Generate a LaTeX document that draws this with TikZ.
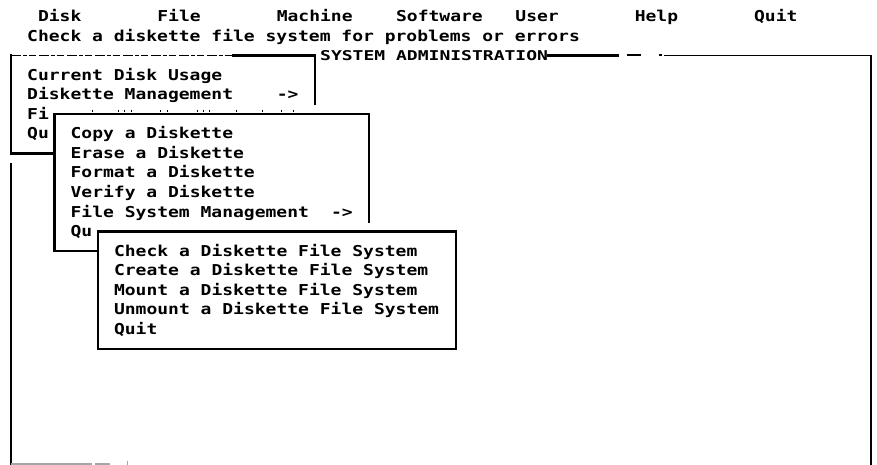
\documentclass[tikz,border=0pt]{standalone}
\usepackage{fontspec}
\newfontfamily\screenfont[FakeStretch=1.2]{DejaVu Sans Mono}
\newfontfamily\captionfont[FakeStretch=1.335]{DejaVu Sans Mono}
\newcommand\menutext{\screenfont\bfseries\fontsize{15}{18}\selectfont}
\newcommand\titletext{\captionfont\bfseries\fontsize{13.5}{16}\selectfont}
% character grid of the text screen: column -> x, row -> baseline y
\newcommand\gx[1]{(5.5+10.85*(#1))}
\newcommand\gy[1]{(21.5+19.55*(#1))}
\begin{document}
\begin{tikzpicture}[x=1pt,y=-1pt,
  tx/.style={anchor=base west,inner sep=0pt,outer sep=0pt,font=\menutext},
  ttl/.style={anchor=base west,inner sep=0pt,outer sep=0pt,font=\titletext},
  edge/.style={line width=2.4pt,line cap=rect},
  thinedge/.style={line width=1.3pt},
  worn/.style={line width=1.4pt,dash pattern=on 10pt off 2pt on 4pt off 2pt on 7pt off 3pt},
  faded/.style={line width=2pt,gray!70}]
\useasboundingbox (0,0) rectangle (877,465);

% ---- frame corners ----
\coordinate (m1tl) at ({\gx{0}+5.4},{\gy{2}-5});
\coordinate (m1bl) at ({\gx{0}+5.4},{\gy{7}-5});
\coordinate (m1tr) at ({\gx{28}+5.4},{\gy{2}-5});
\coordinate (m1re) at ({\gx{28}+5.4},{\gy{4}+4.5});
\coordinate (m1sj) at (233,{\gy{2}-5});
\coordinate (m2tl) at ({\gx{4}+5.4},{\gy{5}-5});
\coordinate (m2bl) at ({\gx{4}+5.4},{\gy{12}-5});
\coordinate (m2tr) at ({\gx{33}+5.4},{\gy{5}-5});
\coordinate (m2re) at ({\gx{33}+5.4},{\gy{10}+4.5});
\coordinate (m1bj) at ({\gx{4}+5.4},{\gy{7}-5});
\coordinate (m3tl) at ({\gx{8}+5.4},{\gy{11}-5});
\coordinate (m3br) at ({\gx{41}+5.4},{\gy{17}-5});
\coordinate (m2bj) at ({\gx{8}+5.4},{\gy{12}-5});
\coordinate (wlt) at ({\gx{0}+5.4},{\gy{8}-14});
\coordinate (wlb) at ({\gx{0}+5.4},465);
\coordinate (wt1) at ({\gx{50}},{\gy{2}-5});
\coordinate (wt2) at (618,{\gy{2}-5});
\coordinate (wt3) at (664,{\gy{2}-5});
\coordinate (wtr) at (871,{\gy{2}-5});
\coordinate (wbr) at (871,465);

% ---- menu bar ----
\node[tx] (mbDisk) at ({\gx{3}},{\gy{0}}) {Disk};
\node[tx] (mbFile) at ({\gx{14}},{\gy{0}}) {File};
\node[tx] (mbMach) at ({\gx{25}},{\gy{0}}) {Machine};
\node[tx] (mbSoft) at ({\gx{36}},{\gy{0}}) {Software};
\node[tx] (mbUser) at ({\gx{47}},{\gy{0}}) {User};
\node[tx] (mbHelp) at ({\gx{58}},{\gy{0}}) {Help};
\node[tx] (mbQuit) at ({\gx{69}},{\gy{0}}) {Quit};
\node[tx] (hint) at ({\gx{2}},{\gy{1}}) {Check a diskette file system for problems or errors};

% ---- SYSTEM ADMINISTRATION window ----
\node[ttl] (wtitle) at ({\gx{29}},{\gy{2}}) {SYSTEM ADMINISTRATION};
\draw[edge] (wt1) -- (wt2);
\draw[line width=2pt] (627,{\gy{2}-6}) -- (641,{\gy{2}-6});
\draw[line width=2pt] (659,{\gy{2}-6}) -- (662,{\gy{2}-6});
\draw[thinedge] (wt3) -- (wtr) -- (wbr);
\draw[edge] (wlt) -- (wlb);
\draw[faded] ({\gx{0}+5.4},463.5) -- (92,463.5);
\draw[faded] (95,463.5) -- (110,463.5);
\draw[faded,line width=1pt] (127,461) -- (127,465);

% ---- first menu ----
\draw[worn] (m1tl) -- (m1sj);
\draw[edge] (m1sj) -- (m1tr) -- (m1re);
\draw[edge] (m1tl) -- (m1bl) -- (m1bj);
\node[tx] (a1) at ({\gx{2}},{\gy{3}}) {Current Disk Usage};
\node[tx] (a2) at ({\gx{2}},{\gy{4}}) {Diskette Management};
\node[tx] (a2arr) at ({\gx{25}},{\gy{4}}) {->};
\node[tx] (a3) at ({\gx{2}},{\gy{5}}) {Fi};
\node[tx] (a4) at ({\gx{2}},{\gy{6}}) {Qu};

% ---- second menu ----
\draw[edge] (m2tr) -- (m2tl) -- (m2bl) -- (m2bj);
\draw[edge] (m2tr) -- (m2re);
\foreach \t in {92,118,124,131,160,167,197,203,209,236,262,281,293}
  \draw[line width=1pt] (\t,{\gy{5}-9.5}) -- (\t,{\gy{5}-7});
\node[tx] (b1) at ({\gx{6}},{\gy{6}}) {Copy a Diskette};
\node[tx] (b2) at ({\gx{6}},{\gy{7}}) {Erase a Diskette};
\node[tx] (b3) at ({\gx{6}},{\gy{8}}) {Format a Diskette};
\node[tx] (b4) at ({\gx{6}},{\gy{9}}) {Verify a Diskette};
\node[tx] (b5) at ({\gx{6}},{\gy{10}}) {File System Management};
\node[tx] (b5arr) at ({\gx{30}},{\gy{10}}) {->};
\node[tx] (b6) at ({\gx{6}},{\gy{11}}) {Qu};

% ---- third menu ----
\draw[edge] (m3tl) rectangle (m3br);
\node[tx] (c1) at ({\gx{10}},{\gy{12}}) {Check a Diskette File System};
\node[tx] (c2) at ({\gx{10}},{\gy{13}}) {Create a Diskette File System};
\node[tx] (c3) at ({\gx{10}},{\gy{14}}) {Mount a Diskette File System};
\node[tx] (c4) at ({\gx{10}},{\gy{15}}) {Unmount a Diskette File System};
\node[tx] (c5) at ({\gx{10}},{\gy{16}}) {Quit};
\end{tikzpicture}
\end{document}
